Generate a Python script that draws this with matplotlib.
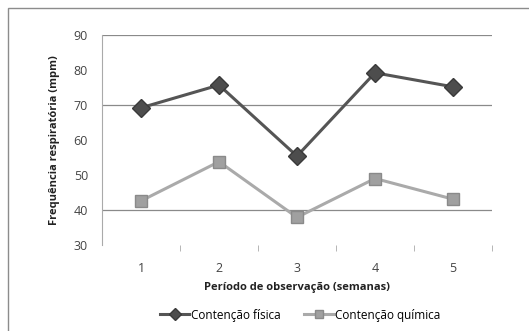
import matplotlib
matplotlib.use('Agg')
import matplotlib.pyplot as plt
import numpy as np

# data
semanas = [1, 2, 3, 4, 5]
fisica = [69.2, 75.7, 55.4, 79.2, 75.2]
quimica = [42.6, 53.8, 37.9, 49.0, 43.1]
yticks = [30, 40, 50, 60, 70, 80, 90]
grid_vals = [40, 70, 90]

plt.rcParams['font.family'] = ['Open Sans', 'DejaVu Sans']

fig = plt.figure(figsize=(5.29, 3.31), dpi=100)
# outer chart border
fig.add_artist(plt.Rectangle((8 / 529, -0.05), 1.1, 1 - 8 / 331 + 0.05,
                             transform=fig.transFigure, fill=False,
                             edgecolor='#8c8c8c', lw=1))

ax = fig.add_axes([102 / 529, 1 - 245 / 331, 390 / 529, 210 / 331])

for g in grid_vals:
    ax.axhline(g, color='#8a8a8a', lw=0.9, zorder=1)

ax.plot(semanas, fisica, color='#555555', lw=2.2, marker='D', ms=9,
        markerfacecolor='#4d4d4d', markeredgecolor='#3a3a3a',
        label='Contenção física', zorder=3)
ax.plot(semanas, quimica, color='#aaaaaa', lw=2.2, marker='s', ms=9,
        markerfacecolor='#a0a0a0', markeredgecolor='#8a8a8a',
        label='Contenção química', zorder=3)

ax.set_xlim(0.5, 5.5)
ax.set_ylim(30, 90)
ax.set_yticks(yticks)
ax.set_xticks(semanas)
ax.set_xticks([1.5, 2.5, 3.5, 4.5, 5.5], minor=True)
ax.tick_params(axis='y', length=0, labelsize=9, colors='#444444', pad=10)
ax.tick_params(axis='x', which='major', length=0, labelsize=9,
               colors='#444444', pad=12)
ax.tick_params(axis='x', which='minor', length=4, color='#aaaaaa',
               direction='out')

for s in ['top', 'right', 'bottom']:
    ax.spines[s].set_visible(False)
ax.spines['left'].set_color('#aaaaaa')

ax.set_ylabel('Frequência respiratória (mpm)', fontsize=8, fontweight='bold',
              color='#222222', labelpad=10)
ax.set_xlabel('Período de observação (semanas)', fontsize=8,
              fontweight='bold', color='#222222', labelpad=5)

fig.legend(loc='center', bbox_to_anchor=(300 / 529, 1 - 315 / 331), ncol=2,
           frameon=False, fontsize=8.5, handlelength=2.5, columnspacing=2.0,
           handletextpad=0.1, markerscale=0.7)

fig.savefig('out.png', dpi=100)
